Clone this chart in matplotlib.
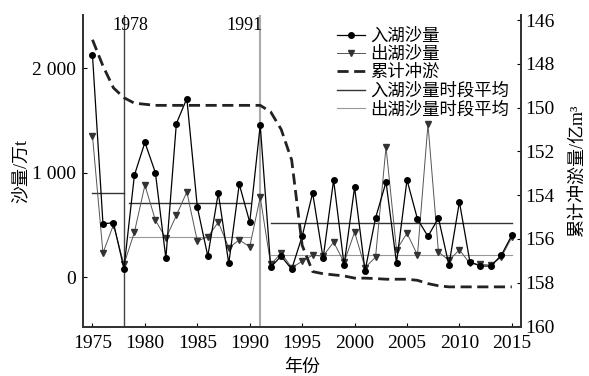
import numpy as np
import matplotlib.pyplot as plt

plt.rcParams['font.family'] = ['Liberation Serif', 'Noto Sans CJK SC']
plt.rcParams['axes.unicode_minus'] = False

years = list(range(1975, 2016))

# 入湖沙量 / 出湖沙量 (万t)
inflow = [2125, 510, 520, 80, 976, 1290, 1000, 180, 1470, 1710,
          670, 200, 805, 130, 890, 525, 1455, 95, 200, 75,
          390, 805, 180, 930, 115, 860, 60, 565, 910, 135,
          930, 555, 390, 565, 115, 720, 145, 105, 105, 210, 400]
outflow = [1350, 230, 500, 120, 430, 880, 545, 370, 590, 815,
           345, 385, 525, 280, 355, 290, 765, 120, 230, 90,
           150, 210, 200, 335, 140, 430, 90, 190, 1245, 260,
           420, 210, 1465, 240, 160, 260, 130, 120, 115, 190, 380]

# 累计冲淤量 (亿m3)
cum = [146.9, 148.1, 149.1, 149.55, 149.8, 149.85, 149.9, 149.9, 149.9, 149.9,
       149.9, 149.9, 149.9, 149.9, 149.9, 149.9, 149.9, 150.2, 151.0, 152.4,
       156.3, 157.5, 157.6, 157.65, 157.7, 157.8, 157.8, 157.82, 157.85, 157.85,
       157.85, 157.9, 158.05, 158.15, 158.2, 158.2, 158.2, 158.2, 158.2, 158.2, 158.2]

# period averages: (start, end, value)
in_avg = [(1975, 1978, 805), (1978.5, 1990, 710), (1992, 2015, 515)]
out_avg = [(1978.5, 1990, 385), (1992, 2015, 210)]

split_years = [1978, 1991]

fig = plt.figure(figsize=(5.89, 3.76), dpi=100)
ax = fig.add_axes([0.141, 0.130, 0.744, 0.830])
ax2 = ax.twinx()

ax.plot(years, inflow, color='black', lw=0.9, marker='o', ms=4,
        label='入湖沙量', zorder=4)
ax.plot(years, outflow, color='#555555', lw=0.7, marker='v', ms=4,
        mfc='#333333', mec='#333333', label='出湖沙量', zorder=3)
l3, = ax2.plot(years, cum, color='#222222', lw=2.0, ls=(0, (4, 2)),
               label='累计冲淤')

for i, (a, b, v) in enumerate(in_avg):
    ax.plot([a, b], [v, v], color='#333333', lw=1.0,
            label='入湖沙量时段平均' if i == 0 else None)
for i, (a, b, v) in enumerate(out_avg):
    ax.plot([a, b], [v, v], color='#999999', lw=0.8,
            label='出湖沙量时段平均' if i == 0 else None)

for yr in split_years:
    ax.axvline(yr, color='#444444' if yr == 1978 else '#aaaaaa',
               lw=1.0 if yr == 1978 else 1.5, zorder=1)
ax.text(1978.6, 0.965, '1978', transform=ax.get_xaxis_transform(),
        ha='center', va='center', fontsize=13)
ax.text(1989.5, 0.965, '1991', transform=ax.get_xaxis_transform(),
        ha='center', va='center', fontsize=13)

ax.set_xlim(1974.1, 2015.9)
ax.set_ylim(-480, 2510)
ax2.set_ylim(160.04, 145.77)

ax.set_xticks(range(1975, 2016, 5))
ax.set_yticks([0, 1000, 2000])
ax.set_yticklabels(['0', '1 000', '2 000'])
ax2.set_yticks(range(146, 161, 2))

for a in (ax, ax2):
    a.spines['top'].set_visible(False)
    for s in a.spines.values():
        s.set_linewidth(1.3)
        s.set_color('#333333')
    a.tick_params(direction='in', length=3, labelsize=14)
ax.tick_params(axis='x', pad=6)
ax.tick_params(axis='y', pad=5)
ax2.tick_params(axis='y', pad=3)

ax.set_xlabel('年份', fontsize=13, labelpad=5)
ax.set_ylabel('沙量/万t', fontsize=13, labelpad=2)
ax2.set_ylabel('累计冲淤量/亿m³', fontsize=13, labelpad=10)

h1, lab1 = ax.get_legend_handles_labels()
handles = [h1[0], h1[1], l3, h1[2], h1[3]]
labels = [lab1[0], lab1[1], '累计冲淤', lab1[2], lab1[3]]
ax.legend(handles, labels, loc='upper left', bbox_to_anchor=(0.58, 0.957),
          frameon=False, fontsize=12.5, handlelength=1.6, handletextpad=0.3,
          labelspacing=0.12, borderpad=0, borderaxespad=0)

fig.savefig('out.png', dpi=100)
